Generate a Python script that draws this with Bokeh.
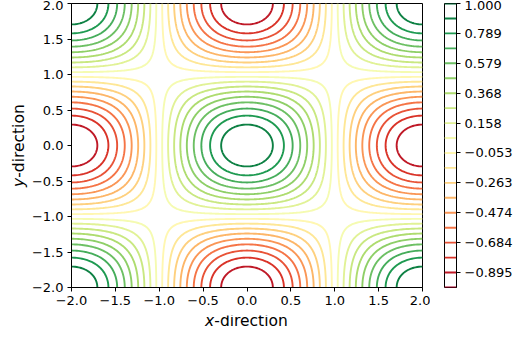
import math
import numpy as np
from bokeh.plotting import figure
from bokeh.layouts import row, column
from bokeh.models import FixedTicker
from bokeh.core.properties import value
from bokeh.embed import file_html
from bokeh.resources import INLINE

# sampling grid of the field z = cos(pi x / 2) * cos(pi y / 2)
x_vals = np.linspace(-2.0, 2.0, 201)
y_vals = np.linspace(-2.0, 2.0, 201)

# contour levels (20 evenly spaced levels between -1 and 1)
levels = [-1.0, -0.8947, -0.7895, -0.6842, -0.5789, -0.4737, -0.3684,
          -0.2632, -0.1579, -0.0526, 0.0526, 0.1579, 0.2632, 0.3684,
          0.4737, 0.5789, 0.6842, 0.7895, 0.8947, 1.0]

# colour bar tick labels (every second level)
cbar_ticks = levels[1::2]
cbar_labels = ["\u22120.895", "\u22120.684", "\u22120.474", "\u22120.263",
               "\u22120.053", "0.158", "0.368", "0.579", "0.789", "1.000"]

# axis ticks
axis_ticks = [-2.0, -1.5, -1.0, -0.5, 0.0, 0.5, 1.0, 1.5, 2.0]
axis_labels = ["\u22122.0", "\u22121.5", "\u22121.0", "\u22120.5",
               "0.0", "0.5", "1.0", "1.5", "2.0"]

# RdYlGn anchor colours
RDYLGN = ["#a50026", "#d73027", "#f46d43", "#fdae61", "#fee08b", "#ffffbf",
          "#d9ef8b", "#a6d96a", "#66bd63", "#1a9850", "#006837"]

FONT = "DejaVu Sans"
TICK_SIZE = "13px"
TITLE_SIZE = "15.5px"

# layout in pixels
FRAME_W, FRAME_H = 352, 284
TOP, BOTTOM = 3, 50
LEFT, RIGHT = 42, 8
XLAB_H = 22
YLAB_W = 28


def cmap(t):
    t = min(max(t, 0.0), 1.0)
    pos = t * (len(RDYLGN) - 1)
    i = min(int(pos), len(RDYLGN) - 2)
    f = pos - i
    a = [int(RDYLGN[i][k:k + 2], 16) for k in (1, 3, 5)]
    b = [int(RDYLGN[i + 1][k:k + 2], 16) for k in (1, 3, 5)]
    c = [round(a[j] + (b[j] - a[j]) * f) for j in range(3)]
    return "#%02x%02x%02x" % tuple(c)


lo, hi = levels[0], levels[-1]
colors = [cmap((lv - lo) / (hi - lo)) for lv in levels]

X, Y = np.meshgrid(x_vals, y_vals)
Z = np.cos(np.pi * X / 2.0) * np.cos(np.pi * Y / 2.0)


def style_axis(ax, ticks, labels):
    ax.ticker = FixedTicker(ticks=ticks)
    ax.major_label_overrides = dict(zip(ticks, labels))
    ax.major_tick_out = 4
    ax.major_tick_in = 0
    ax.minor_tick_out = 0
    ax.minor_tick_in = 0
    ax.axis_line_color = "black"
    ax.major_tick_line_color = "black"
    ax.major_label_text_font = FONT
    ax.major_label_text_font_size = TICK_SIZE
    ax.major_label_text_color = "black"
    ax.major_label_standoff = 4


def text_strip(width, height, x_end, y_end, left, right, top, bottom):
    # blank canvas (pixel data units) that carries an axis title
    fig = figure(width=width, height=height, x_range=(0, x_end),
                 y_range=(0, y_end), x_axis_location=None,
                 y_axis_location=None, output_backend="svg",
                 toolbar_location=None, min_border=0,
                 min_border_left=left, min_border_right=right,
                 min_border_top=top, min_border_bottom=bottom)
    fig.grid.visible = False
    fig.outline_line_color = None
    fig.background_fill_color = "white"
    fig.border_fill_color = "white"
    return fig


# ---- main contour plot ----
p = figure(width=LEFT + FRAME_W + RIGHT, height=TOP + FRAME_H + BOTTOM - XLAB_H,
           x_range=(-2, 2), y_range=(-2, 2),
           output_backend="svg", toolbar_location=None,
           min_border_left=LEFT, min_border_right=RIGHT,
           min_border_top=TOP, min_border_bottom=BOTTOM - XLAB_H)
p.contour(x_vals, y_vals, Z, levels, line_color=colors, line_width=1.9)
p.grid.visible = False
p.background_fill_color = "white"
p.border_fill_color = "white"
p.outline_line_color = "black"
p.outline_line_width = 1
p.outline_line_alpha = 1
style_axis(p.xaxis[0], axis_ticks, axis_labels)
style_axis(p.yaxis[0], axis_ticks, axis_labels)

# ---- x axis title (italic variable name + plain text) ----
xlab = text_strip(LEFT + FRAME_W + RIGHT, XLAB_H, FRAME_W, XLAB_H,
                  LEFT, RIGHT, 0, 0)
xlab.text(x=[143.2], y=[16.5], text=["x"], text_align="right",
          text_baseline="alphabetic", text_font=value(FONT),
          text_font_style="italic", text_font_size=TITLE_SIZE,
          text_color="black")
xlab.text(x=[143.2], y=[16.5], text=["-direction"], text_align="left",
          text_baseline="alphabetic", text_font=value(FONT),
          text_font_size=TITLE_SIZE, text_color="black")

# ---- y axis title ----
ylab = text_strip(YLAB_W, TOP + FRAME_H + BOTTOM, YLAB_W, FRAME_H,
                  0, 0, TOP, BOTTOM)
ylab.text(x=[18.2], y=[109.7], text=["y"], angle=math.pi / 2,
          text_align="right", text_baseline="alphabetic",
          text_font=value(FONT), text_font_style="italic",
          text_font_size=TITLE_SIZE, text_color="black")
ylab.text(x=[18.2], y=[109.7], text=["-direction"], angle=math.pi / 2,
          text_align="left", text_baseline="alphabetic",
          text_font=value(FONT), text_font_size=TITLE_SIZE,
          text_color="black")

# ---- colour bar ----
cb = figure(width=85, height=TOP + FRAME_H + BOTTOM, x_range=(0, 1),
            y_range=(lo, hi), y_axis_location="right",
            output_backend="svg", toolbar_location=None,
            min_border_left=14, min_border_right=57,
            min_border_top=TOP, min_border_bottom=BOTTOM)
cb.segment(x0=[0.0] * len(levels), x1=[1.0] * len(levels), y0=levels,
           y1=levels, line_color=colors, line_width=1.9)
cb.grid.visible = False
cb.xaxis.visible = False
cb.background_fill_color = "white"
cb.border_fill_color = "white"
cb.outline_line_color = "black"
cb.outline_line_width = 1
cb.outline_line_alpha = 1
style_axis(cb.yaxis[0], cbar_ticks, cbar_labels)

layout = row(ylab, column(p, xlab, spacing=0), cb, spacing=0)
open("out.html", "w").write(file_html(layout, INLINE))
